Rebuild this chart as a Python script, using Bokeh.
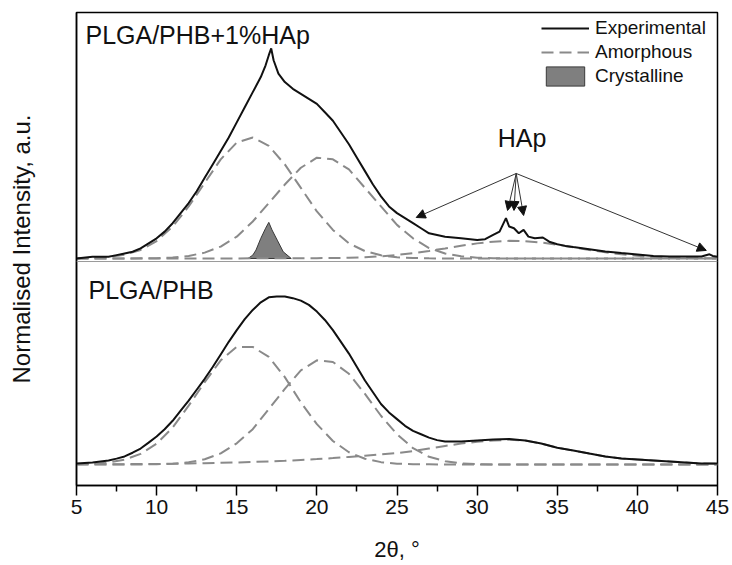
from bokeh.plotting import figure
from bokeh.models import Range1d, FixedTicker, Span, Label, Arrow, NormalHead
from bokeh.embed import file_html
from bokeh.resources import INLINE

# ---------------- data ----------------
# 2theta grid for fitted components
x_fit = list(range(5, 46))

# Top panel: PLGA/PHB+1%HAp
top_exp_x = [5.0, 6.0, 7.0, 7.5, 8.0, 8.5, 9.0, 9.5, 10.0, 10.5, 11.0, 11.5, 12.0, 12.5, 13.0,
             13.5, 14.0, 14.5, 15.0, 15.5, 16.0, 16.5, 16.8, 17.0, 17.15, 17.3, 17.6, 18.0, 18.5,
             19.0, 19.5, 20.0, 20.5, 21.0, 21.5, 22.0, 22.5, 23.0, 23.5, 24.0, 24.5, 25.0, 25.5,
             26.0, 26.5, 27.0, 27.5, 28.0, 29.0, 30.0, 30.5, 31.0, 31.4, 31.8, 32.0, 32.3, 32.6,
             32.9, 33.2, 33.6, 34.1, 34.5, 35.0, 35.5, 36.0, 37.0, 38.0, 39.0, 40.0, 41.0, 42.0,
             43.0, 44.0, 44.5, 44.7, 45.0]
top_exp_y = [0.00, 0.01, 0.01, 0.02, 0.03, 0.04, 0.06, 0.09, 0.12, 0.16, 0.21, 0.27, 0.33, 0.40, 0.48,
             0.56, 0.64, 0.72, 0.81, 0.90, 0.99, 1.08, 1.15, 1.21, 1.25, 1.18, 1.10, 1.05, 1.01,
             0.98, 0.95, 0.92, 0.87, 0.82, 0.75, 0.68, 0.60, 0.52, 0.44, 0.37, 0.31, 0.27, 0.24,
             0.21, 0.18, 0.15, 0.14, 0.13, 0.12, 0.11, 0.115, 0.14, 0.16, 0.24, 0.19, 0.18, 0.15,
             0.17, 0.13, 0.12, 0.125, 0.10, 0.085, 0.075, 0.068, 0.055, 0.042, 0.032, 0.024, 0.015, 0.012,
             0.012, 0.012, 0.025, 0.015, 0.01]
top_amorph_1 = [0.001, 0.003, 0.009, 0.022, 0.051, 0.104, 0.19, 0.31, 0.45, 0.59, 0.69, 0.72, 0.67,
                0.56, 0.42, 0.28, 0.17, 0.09, 0.044, 0.019, 0.007, 0.003, 0.001] + [0.0] * 18
top_amorph_2 = [0.0, 0.0, 0.0, 0.0, 0.001, 0.002, 0.006, 0.015, 0.035, 0.071, 0.13, 0.22, 0.33, 0.44,
                0.54, 0.60, 0.59, 0.53, 0.42, 0.31, 0.20, 0.12, 0.062, 0.03, 0.013, 0.005, 0.002] + [0.0] * 14
top_amorph_3 = [0.0] * 11 + [0.001, 0.001, 0.001, 0.002, 0.002, 0.003, 0.004, 0.007, 0.013, 0.021,
                             0.032, 0.045, 0.060, 0.076, 0.090, 0.100, 0.105, 0.103, 0.095, 0.082,
                             0.067, 0.051, 0.037, 0.025, 0.016, 0.009, 0.005, 0.003, 0.002, 0.001]
cryst_x = [15.7, 16.0, 16.2, 16.5, 16.8, 17.0, 17.2, 17.55, 17.9, 18.4]
cryst_y = [0.0, 0.02, 0.05, 0.12, 0.18, 0.215, 0.17, 0.105, 0.04, 0.0]

# Bottom panel: PLGA/PHB
bot_exp_x = [5.0, 6.0, 7.0, 7.5, 8.0, 8.5, 9.0, 9.5, 10.0, 10.5, 11.0, 11.5, 12.0, 12.5, 13.0, 13.5,
             14.0, 14.5, 15.0, 15.5, 16.0, 16.5, 17.0, 17.5, 18.0, 18.5, 19.0, 19.5, 20.0, 20.5,
             21.0, 21.5, 22.0, 22.5, 23.0, 23.5, 24.0, 24.5, 25.0, 25.5, 26.0, 26.5, 27.0, 27.5,
             28.0, 29.0, 30.0, 31.0, 32.0, 33.0, 34.0, 35.0, 36.0, 37.0, 38.0, 39.0, 40.0, 41.0,
             42.0, 43.0, 44.0, 45.0]
bot_exp_y = [0.006, 0.012, 0.024, 0.035, 0.048, 0.07, 0.095, 0.13, 0.167, 0.21, 0.26, 0.32, 0.38, 0.445,
             0.51, 0.58, 0.655, 0.73, 0.80, 0.865, 0.92, 0.965, 0.995, 1.0, 1.0, 0.99, 0.975, 0.95,
             0.91, 0.86, 0.80, 0.73, 0.66, 0.58, 0.50, 0.43, 0.36, 0.31, 0.27, 0.23, 0.20, 0.18,
             0.16, 0.145, 0.137, 0.137, 0.143, 0.149, 0.152, 0.143, 0.125, 0.10, 0.083, 0.065,
             0.048, 0.036, 0.030, 0.024, 0.018, 0.012, 0.006, 0.006]
bot_amorph_1 = [0.001, 0.004, 0.012, 0.029, 0.063, 0.124, 0.22, 0.35, 0.49, 0.62, 0.70, 0.70, 0.64,
                0.52, 0.37, 0.24, 0.14, 0.073, 0.034, 0.014, 0.005, 0.002, 0.001] + [0.0] * 18
bot_amorph_2 = [0.0] * 5 + [0.002, 0.005, 0.013, 0.031, 0.066, 0.126, 0.21, 0.33, 0.45, 0.56, 0.62,
                            0.61, 0.54, 0.42, 0.29, 0.18, 0.097, 0.046, 0.02, 0.007, 0.002] + [0.0] * 15
bot_amorph_3 = [0.001, 0.001, 0.002, 0.002, 0.003, 0.003, 0.004, 0.006, 0.008, 0.010, 0.012, 0.015,
                0.018, 0.022, 0.027, 0.032, 0.038, 0.045, 0.052, 0.060, 0.068, 0.080, 0.095, 0.11,
                0.125, 0.135, 0.143, 0.147, 0.143, 0.125, 0.10, 0.083, 0.065, 0.048, 0.036, 0.030,
                0.024, 0.018, 0.012, 0.006, 0.004]

x_major_ticks = [5, 10, 15, 20, 25, 30, 35, 40, 45]
x_minor_ticks = [7.5, 12.5, 17.5, 22.5, 27.5, 32.5, 37.5, 42.5]

# HAp annotation (top-panel units): arrow origin and arrow tips
hap_origin = (32.44, 0.506)
hap_tips_x = [26.2, 31.9, 32.3, 32.9, 44.3]
hap_tips_y = [0.244, 0.286, 0.286, 0.256, 0.048]

# ---------------- layout constants ----------------
TOP_OFFSET = 1.226      # vertical shift of the upper panel
DIVIDER = 1.208
FONT = "Liberation Sans"
DASH_COLOR = "#8a8a8a"
DASH = "12 6"

p = figure(width=732, height=565, output_backend="svg", toolbar_location=None,
           x_range=Range1d(5, 45), y_range=Range1d(-0.125, 2.69),
           min_border_left=76, min_border_right=15, min_border_top=12, min_border_bottom=80)
p.xgrid.visible = False
p.ygrid.visible = False
p.outline_line_color = "black"
p.outline_line_width = 1.5
p.background_fill_color = "white"
p.border_fill_color = "white"


def shift(vals):
    return [v + TOP_OFFSET for v in vals]


# bottom panel
p.line(x_fit, bot_amorph_3, line_color=DASH_COLOR, line_width=2, line_dash=DASH)
p.line(x_fit, bot_amorph_1, line_color=DASH_COLOR, line_width=2, line_dash=DASH)
p.line(x_fit, bot_amorph_2, line_color=DASH_COLOR, line_width=2, line_dash=DASH)
p.line(bot_exp_x, bot_exp_y, line_color="#111111", line_width=2)

# top panel
p.patch(cryst_x, shift(cryst_y), fill_color="#7f7f7f", line_color="#3a3a3a", line_width=1,
        legend_label="Crystalline")
p.line(x_fit, shift(top_amorph_3), line_color=DASH_COLOR, line_width=2, line_dash=DASH)
p.line(x_fit, shift(top_amorph_2), line_color=DASH_COLOR, line_width=2, line_dash=DASH)
p.line(x_fit, shift(top_amorph_1), line_color=DASH_COLOR, line_width=2, line_dash=DASH,
       legend_label="Amorphous")
p.line(top_exp_x, shift(top_exp_y), line_color="#111111", line_width=2,
       legend_label="Experimental")

p.add_layout(Span(location=DIVIDER, dimension="width", line_color="#9a9a9a", line_width=1))

# legend order
leg = p.legend[0]
items = {it.label.value: it for it in leg.items}
leg.items = [items["Experimental"], items["Amorphous"], items["Crystalline"]]
leg.location = (465, 397)
leg.border_line_color = None
leg.background_fill_alpha = 0
leg.label_text_font = FONT
leg.label_text_font_size = "19px"
leg.label_text_color = "#111111"
leg.glyph_width = 48
leg.glyph_height = 24
leg.label_height = 24
leg.spacing = 0
leg.padding = 2
leg.margin = 0
leg.label_standoff = 6

# panel labels
p.add_layout(Label(x=5.56, y=2.637, text="PLGA/PHB+1%HAp", text_font=FONT, text_font_size="25px",
                   text_baseline="top", text_align="left", text_color="#111111"))
p.add_layout(Label(x=5.75, y=1.119, text="PLGA/PHB", text_font=FONT, text_font_size="25px",
                   text_baseline="top", text_align="left", text_color="#111111"))
p.add_layout(Label(x=32.8, y=2.024, text="HAp", text_font=FONT, text_font_size="25px",
                   text_baseline="top", text_align="center", text_color="#111111"))

for tx, ty in zip(hap_tips_x, hap_tips_y):
    p.add_layout(Arrow(x_start=hap_origin[0], y_start=hap_origin[1] + TOP_OFFSET,
                       x_end=tx, y_end=ty + TOP_OFFSET, line_color="#333333", line_width=1,
                       end=NormalHead(size=9, fill_color="#111111", line_color="#111111", line_width=1)))

# x axis
xa = p.xaxis[0]
xa.ticker = FixedTicker(ticks=x_major_ticks, minor_ticks=x_minor_ticks)
xa.major_tick_in = 0
xa.major_tick_out = 10
xa.minor_tick_in = 0
xa.minor_tick_out = 6
xa.major_tick_line_width = 1.5
xa.minor_tick_line_width = 1.5
xa.axis_line_width = 1.5
xa.axis_line_color = "black"
xa.major_label_text_font = FONT
xa.major_label_text_font_size = "21px"
xa.major_label_text_color = "#111111"
xa.major_label_standoff = 4
xa.axis_label = "2θ, °"
xa.axis_label_text_font = FONT
xa.axis_label_text_font_size = "22px"
xa.axis_label_text_font_style = "normal"
xa.axis_label_text_color = "#111111"
xa.axis_label_standoff = 20

# y axis
ya = p.yaxis[0]
ya.ticker = FixedTicker(ticks=[])
ya.major_tick_line_color = None
ya.minor_tick_line_color = None
ya.major_tick_out = 0
ya.minor_tick_out = 0
ya.major_label_standoff = 0
ya.axis_line_width = 1.5
ya.axis_line_color = "black"
ya.axis_label = "Normalised Intensity, a.u."
ya.axis_label_text_font = FONT
ya.axis_label_text_font_size = "24px"
ya.axis_label_text_font_style = "normal"
ya.axis_label_text_color = "#111111"
ya.axis_label_standoff = 42

open("out.html", "w").write(file_html(p, INLINE))
